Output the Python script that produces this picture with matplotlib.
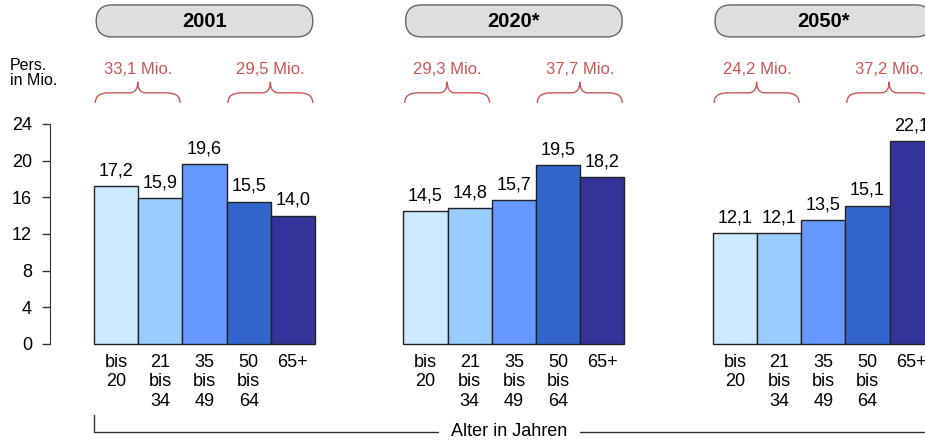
import matplotlib
matplotlib.use('Agg')
import matplotlib.pyplot as plt
from matplotlib.patches import FancyBboxPatch, PathPatch
from matplotlib.path import Path

plt.rcParams['font.family'] = ['Liberation Sans', 'DejaVu Sans']

YEARS = ['2001', '2020*', '2050*']
AGE_LABELS = ['bis\n20', '21\nbis\n34', '35\nbis\n49', '50\nbis\n64', '65+']
VALUES_2001 = [17.2, 15.9, 19.6, 15.5, 14.0]
VALUES_2020 = [14.5, 14.8, 15.7, 19.5, 18.2]
VALUES_2050 = [12.1, 12.1, 13.5, 15.1, 22.1]
SUM_YOUNG = ['33,1 Mio.', '29,3 Mio.', '24,2 Mio.']
SUM_OLD = ['29,5 Mio.', '37,7 Mio.', '37,2 Mio.']
COLORS = ['#cceaff', '#99ccff', '#6699ff', '#3366cc', '#333399']

GROUP_STEP = 7
RED = '#cc5555'
FS = 13


def brace(ax, x0, x1, y_bot, y_mid, y_top):
    """Curly brace opening downwards, from x0 to x1."""
    xm = (x0 + x1) / 2
    r = 0.3
    verts = [
        (x0, y_bot), (x0, y_mid), (x0 + r, y_mid),
        (xm - r * 0.6, y_mid), (xm, y_mid), (xm, y_top),
        (xm, y_mid), (xm + r * 0.6, y_mid),
        (x1 - r, y_mid), (x1, y_mid), (x1, y_bot),
    ]
    codes = [Path.MOVETO, Path.CURVE3, Path.CURVE3,
             Path.LINETO, Path.CURVE3, Path.CURVE3,
             Path.CURVE3, Path.CURVE3,
             Path.LINETO, Path.CURVE3, Path.CURVE3]
    ax.add_patch(PathPatch(Path(verts, codes), fill=False, edgecolor=RED,
                           lw=1.0, clip_on=False))


fig = plt.figure(figsize=(9.25, 4.41), dpi=100)
# y: 0 at pixel 344, 24 at pixel 124; left spine at x=50
ax = fig.add_axes([50 / 925, 97 / 441, 875 / 925, 220 / 441])
ax.set_xlim(-0.995, 18.8)
ax.set_ylim(0, 24)

all_values = [VALUES_2001, VALUES_2020, VALUES_2050]
tick_pos = []
tick_lab = []
for g, (year, vals) in enumerate(zip(YEARS, all_values)):
    x0 = g * GROUP_STEP
    xs = [x0 + i for i in range(len(vals))]
    ax.bar(xs, vals, width=1.0, align='edge', color=COLORS,
           edgecolor='#222222', linewidth=1.0, clip_on=False)
    for x, v in zip(xs, vals):
        ax.annotate(f'{v:.1f}'.replace('.', ','), (x + 0.5, v),
                    xytext=(0, 5), textcoords='offset points',
                    ha='center', va='bottom', fontsize=FS, annotation_clip=False)
    tick_pos += [x + 0.5 for x in xs]
    tick_lab += AGE_LABELS

    # year box
    a = 4.82
    box = FancyBboxPatch((x0 + 0.05, 33.5), 4.9, 3.49,
                         boxstyle='round,pad=0,rounding_size=0.362',
                         mutation_aspect=a, facecolor='#dedede',
                         edgecolor='#666666', lw=1.0, clip_on=False)
    ax.add_patch(box)
    ax.text(x0 + 2.5, 35.2, year, ha='center', va='center',
            fontsize=14.5, fontweight='bold', clip_on=False)

    # sums with braces
    ax.text(x0 + 1.0, 29.9, SUM_YOUNG[g], ha='center', va='center',
            fontsize=12, color=RED, clip_on=False)
    ax.text(x0 + 4.0, 29.9, SUM_OLD[g], ha='center', va='center',
            fontsize=12, color=RED, clip_on=False)
    brace(ax, x0 + 0.03, x0 + 1.95, 26.3, 27.4, 28.6)
    brace(ax, x0 + 3.03, x0 + 4.95, 26.3, 27.4, 28.6)

ax.set_xticks(tick_pos)
ax.set_xticklabels(tick_lab, fontsize=FS, va='top', linespacing=1.2)
ax.tick_params(axis='x', length=0, pad=7)

ax.set_yticks(range(0, 25, 4))
ax.tick_params(axis='y', labelsize=FS, length=6, width=1, color='#333333', pad=7)

for side in ['top', 'right', 'bottom']:
    ax.spines[side].set_visible(False)
ax.spines['left'].set_color('#333333')
ax.set_facecolor('none')

# bottom bracket "Alter in Jahren"
ax.plot([0, 0, 18.8], [-7.75, -9.6, -9.6], color='#333333', lw=1.0, clip_on=False)
ax.text(9.4, -9.6, 'Alter in Jahren', ha='center', va='center', fontsize=FS,
        bbox=dict(facecolor='white', edgecolor='none', pad=9), clip_on=False)

fig.text(10 / 925, 1 - 73 / 441, 'Pers.\nin Mio.', ha='left', va='center',
         fontsize=11.5, linespacing=1.05)

fig.savefig('out.png', dpi=100)
